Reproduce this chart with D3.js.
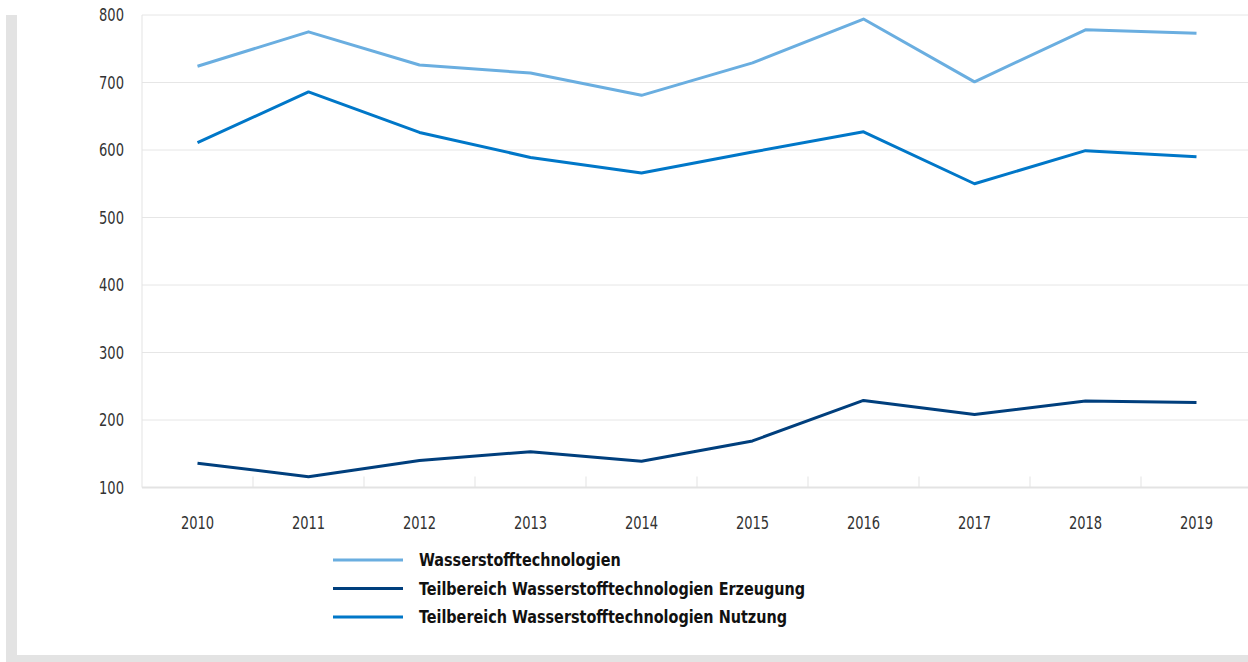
<!DOCTYPE html>
<html>
<head>
<meta charset="utf-8">
<script src="https://cdn.jsdelivr.net/npm/d3@7"></script>
<style>
  body { margin: 0; background: #fff; }
  svg text { font-family: "DejaVu Sans", sans-serif; font-stretch: condensed; }
</style>
</head>
<body>
<div id="chart"></div>
<script>
    // years on the x axis
    var years = ["2010", "2011", "2012", "2013", "2014", "2015", "2016", "2017", "2018", "2019"];
    var yTicks = [100, 200, 300, 400, 500, 600, 700, 800];

    // series values
    var gesamt = [724, 775, 726, 714, 681, 729, 794, 701, 778, 773];
    var erzeugung = [136, 116, 140, 153, 139, 169, 229, 208, 228, 226];
    var nutzung = [611, 686, 626, 589, 566, 597, 627, 550, 599, 590];

    var seriesNames = ["Wasserstofftechnologien",
                       "Teilbereich Wasserstofftechnologien Erzeugung",
                       "Teilbereich Wasserstofftechnologien Nutzung"];
    var seriesColors = ["#6aaee0", "#003f7d", "#0077c8"];

(function () {
    var w = 1248;
    var h = 662;
    var axisSquash = 0.83;   // condensed DejaVu is still a bit wide, squeeze a little more
    var legendSquash = 0.89;

    var svg = d3.select("#chart")
                .append("svg")
                .attr("width", w)
                .attr("height", h);

    // grey frame left and bottom
    svg.append("rect").attr("x", 6).attr("y", 15).attr("width", 11).attr("height", h - 15).attr("fill", "#e3e3e3");
    svg.append("rect").attr("x", 6).attr("y", 655).attr("width", w - 6).attr("height", 7).attr("fill", "#e3e3e3");

    var pLeft = 142, pRight = 1252, pTop = 15, pBottom = 487.5;

    var x = d3.scaleBand().domain(years).range([pLeft, pRight]);
    var y = d3.scaleLinear().domain([100, 800]).range([pBottom, pTop]);

    // gridlines
    svg.selectAll("line.grid")
        .data(yTicks.slice(1))
        .enter()
        .append("line")
        .attr("class", "grid")
        .attr("x1", pLeft)
        .attr("x2", w)
        .attr("y1", function (d) { return y(d); })
        .attr("y2", function (d) { return y(d); })
        .attr("stroke", "#e6e6e6")
        .attr("stroke-width", 1);

    // left line and baseline
    svg.append("line").attr("x1", pLeft).attr("x2", pLeft).attr("y1", pTop).attr("y2", pBottom)
        .attr("stroke", "#e3e3e3").attr("stroke-width", 1);
    svg.append("line").attr("x1", pLeft).attr("x2", w).attr("y1", pBottom).attr("y2", pBottom)
        .attr("stroke", "#e3e3e3").attr("stroke-width", 2);

    // tick marks between the years
    svg.selectAll("line.tick")
        .data(years.slice(1))
        .enter()
        .append("line")
        .attr("class", "tick")
        .attr("x1", function (d) { return x(d); })
        .attr("x2", function (d) { return x(d); })
        .attr("y1", pBottom - 11)
        .attr("y2", pBottom)
        .attr("stroke", "#e3e3e3")
        .attr("stroke-width", 1);

    // y labels
    svg.selectAll("text.ylab")
        .data(yTicks)
        .enter()
        .append("text")
        .attr("class", "ylab")
        .attr("transform", function (d) { return "translate(124," + y(d) + ") scale(" + axisSquash + ",1)"; })
        .attr("dy", "0.35em")
        .attr("text-anchor", "end")
        .attr("font-size", 17.5)
        .attr("fill", "#333")
        .text(function (d) { return d; });

    // x labels
    svg.selectAll("text.xlab")
        .data(years)
        .enter()
        .append("text")
        .attr("class", "xlab")
        .attr("transform", function (d) {
            return "translate(" + (x(d) + x.bandwidth() / 2) + ",522.5) scale(" + axisSquash + ",1)";
        })
        .attr("dy", "0.35em")
        .attr("text-anchor", "middle")
        .attr("font-size", 17.5)
        .attr("fill", "#333")
        .text(function (d) { return d; });

    // the lines
    var line = d3.line()
        .x(function (d, i) { return x(years[i]) + x.bandwidth() / 2; })
        .y(function (d) { return y(d); });

    var allSeries = [gesamt, erzeugung, nutzung];
    svg.selectAll("path.series")
        .data(allSeries)
        .enter()
        .append("path")
        .attr("class", "series")
        .attr("d", line)
        .attr("fill", "none")
        .attr("stroke", function (d, i) { return seriesColors[i]; })
        .attr("stroke-width", 3)
        .attr("stroke-linejoin", "round");

    // legend
    var legend = svg.selectAll("g.legend")
        .data(seriesNames)
        .enter()
        .append("g")
        .attr("class", "legend")
        .attr("transform", function (d, i) { return "translate(333," + (560 + i * 28.5) + ")"; });

    legend.append("line")
        .attr("x1", 0).attr("x2", 70)
        .attr("stroke", function (d, i) { return seriesColors[i]; })
        .attr("stroke-width", 3);

    legend.append("text")
        .attr("transform", "translate(86,0) scale(" + legendSquash + ",1)")
        .attr("dy", "0.35em")
        .attr("font-size", 18)
        .attr("font-weight", "bold")
        .attr("fill", "#111")
        .text(function (d) { return d; });
})();
</script>
</body>
</html>
